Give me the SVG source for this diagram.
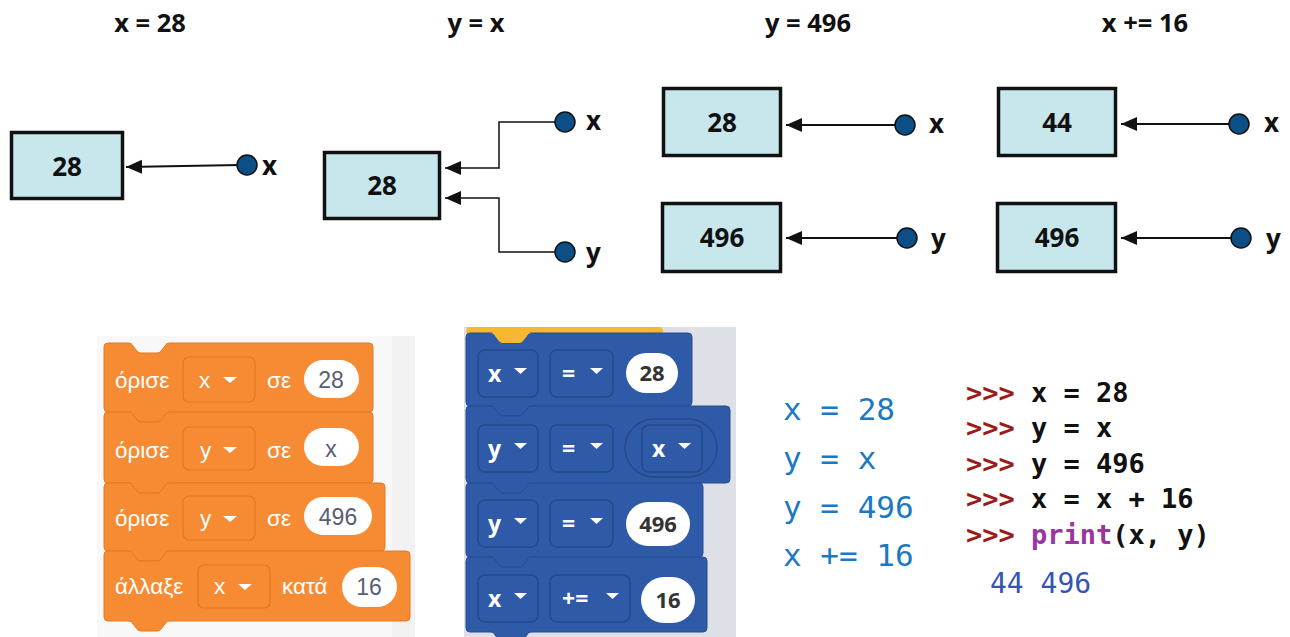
<svg xmlns="http://www.w3.org/2000/svg" width="1290" height="637" viewBox="0 0 1290 637">
  <style>
    .title { font-family: "Open Sans", "Liberation Sans", sans-serif; font-weight: bold; font-size: 25.5px; fill: #111; text-anchor: middle; }
    .box { fill: #c7e7ed; stroke: #111; stroke-width: 3.5; }
    .val { font-family: "Open Sans", "Liberation Sans", sans-serif; font-weight: bold; font-size: 26px; fill: #111; text-anchor: middle; }
    .dot { fill: #0b4f86; stroke: #111; stroke-width: 1.5; }
    .name { font-family: "Open Sans", "Liberation Sans", sans-serif; font-weight: bold; font-size: 26px; fill: #111; }
    .ref { fill: none; stroke: #111; stroke-width: 2; marker-end: url(#head); }
    .ref-thin { fill: none; stroke: #111; stroke-width: 1.5; marker-end: url(#head); }

    .orange { fill: #f68b33; stroke: #e27a22; stroke-width: 1; }
    .o-dd { fill: #f68b33; stroke: #e3791f; stroke-width: 1.2; }
    .o-txt { font-family: "Liberation Sans", Arial, sans-serif; font-size: 22.5px; fill: #fff; }
    .oval { fill: #fff; }
    .o-num { font-family: "Liberation Sans", Arial, sans-serif; font-size: 23px; fill: #575e75; text-anchor: middle; }
    .tri { fill: #fff; }

    .blue { fill: #2f5aa8; stroke: #264c92; stroke-width: 1; }
    .b-dd { fill: #2f5aa8; stroke: #264989; stroke-width: 1.5; }
    .b-txt { font-family: "Open Sans", "Liberation Sans", sans-serif; font-weight: bold; font-size: 23px; fill: #fff; }
    .b-num { font-family: "Open Sans", "Liberation Sans", sans-serif; font-weight: bold; font-size: 22px; fill: #333; text-anchor: middle; }

    .py { font-family: "DejaVu Sans Mono", "Liberation Mono", monospace; font-size: 31px; fill: #1b79c3; }
    .repl { font-family: "DejaVu Sans Mono", "Liberation Mono", monospace; font-size: 27px; font-weight: bold; fill: #111; }
    .prompt { fill: #9c1b1b; }
    .kw { fill: #9b35a0; }
    .out { font-family: "DejaVu Sans Mono", "Liberation Mono", monospace; font-size: 28px; fill: #3555b3; }
  </style>
  <defs>
    <marker id="head" markerUnits="userSpaceOnUse" markerWidth="17" markerHeight="15" refX="16" refY="7" orient="auto">
      <path d="M0,0 L16,7 L0,14 Z" fill="#111"/>
    </marker>
  </defs>

  <rect width="1290" height="637" fill="#fff"/>

  <!-- step titles -->
  <g id="titles">
    <text class="title" x="150" y="32">x = 28</text>
    <text class="title" x="476" y="32">y = x</text>
    <text class="title" x="808" y="32">y = 496</text>
    <text class="title" x="1145" y="32">x += 16</text>
  </g>

  <!-- memory cells -->
  <g id="cell-1"><rect class="box" x="11.5" y="132.5" width="111" height="66"/><text class="val" x="67" y="176">28</text></g>
  <g id="cell-2"><rect class="box" x="324.5" y="152.5" width="115" height="66"/><text class="val" x="382" y="195">28</text></g>
  <g id="cell-3"><rect class="box" x="663.5" y="88.5" width="117" height="67"/><text class="val" x="722" y="132">28</text></g>
  <g id="cell-4"><rect class="box" x="662.5" y="203.5" width="118" height="68"/><text class="val" x="722" y="247">496</text></g>
  <g id="cell-5"><rect class="box" x="998.5" y="88.5" width="117" height="67"/><text class="val" x="1057" y="132">44</text></g>
  <g id="cell-6"><rect class="box" x="997.5" y="203.5" width="118" height="68"/><text class="val" x="1057" y="247">496</text></g>

  <!-- references from names to cells -->
  <g id="connectors">
    <path class="ref" d="M240,165 L126,167"/>
    <path class="ref-thin" d="M558,122 H499 V168 H445"/>
    <path class="ref-thin" d="M558,252 H499 V198 H445"/>
    <path class="ref" d="M898,125 H786"/>
    <path class="ref" d="M900,238 H786"/>
    <path class="ref" d="M1232,124 H1121"/>
    <path class="ref" d="M1234,238 H1121"/>
  </g>

  <!-- variable names -->
  <g id="name-x1"><circle class="dot" cx="247" cy="165" r="10"/><text class="name" x="262" y="175">x</text></g>
  <g id="name-x2"><circle class="dot" cx="565" cy="122" r="10"/><text class="name" x="586" y="130">x</text></g>
  <g id="name-y2"><circle class="dot" cx="565" cy="252" r="10"/><text class="name" x="586" y="262">y</text></g>
  <g id="name-x3"><circle class="dot" cx="905" cy="125" r="10"/><text class="name" x="929" y="133">x</text></g>
  <g id="name-y3"><circle class="dot" cx="907" cy="238" r="10"/><text class="name" x="931" y="248">y</text></g>
  <g id="name-x4"><circle class="dot" cx="1239" cy="124" r="10"/><text class="name" x="1264" y="132">x</text></g>
  <g id="name-y4"><circle class="dot" cx="1241" cy="238" r="10"/><text class="name" x="1266" y="248">y</text></g>

  <!-- Scratch script -->
  <g id="scratch">
    <rect x="97" y="336" width="318" height="301" fill="#f8f8f8"/>
    <rect x="392" y="336" width="23" height="301" fill="#f2f2f2"/>
    <g transform="translate(104,343)">
      <path class="orange" d="M0,4 A4,4 0 0 1 4,0 H24 c3,0 4,1 5,3 l4,5 c1,1.5 2.5,2 5,2 h14 c2.5,0 4,-0.5 5,-2 l4,-5 c1,-2 2,-3 5,-3 H265 a4,4 0 0 1 4,4 V65 a4,4 0 0 1 -4,4 H66 c-3,0 -4,1 -5,3 l-4,5 c-1,1.5 -2.5,2 -5,2 h-14 c-2.5,0 -4,-0.5 -5,-2 l-4,-5 c-1,-2 -2,-3 -5,-3 H4 a4,4 0 0 1 -4,-4 Z"/>
      <text class="o-txt" x="11" y="45">όρισε</text>
      <rect class="o-dd" x="79" y="14" width="72" height="45" rx="6"/>
      <text class="o-txt" x="95" y="45">x</text>
      <path class="tri" d="M119,34 h14 l-7,6 Z"/>
      <text class="o-txt" x="163" y="45">σε</text>
      <rect class="oval" x="200" y="17" width="55" height="38" rx="19"/>
      <text class="o-num" x="227" y="45">28</text>
    </g>
    <g transform="translate(104,412)">
      <path class="orange" d="M0,4 A4,4 0 0 1 4,0 H24 c3,0 4,1 5,3 l4,5 c1,1.5 2.5,2 5,2 h14 c2.5,0 4,-0.5 5,-2 l4,-5 c1,-2 2,-3 5,-3 H265 a4,4 0 0 1 4,4 V67 a4,4 0 0 1 -4,4 H66 c-3,0 -4,1 -5,3 l-4,5 c-1,1.5 -2.5,2 -5,2 h-14 c-2.5,0 -4,-0.5 -5,-2 l-4,-5 c-1,-2 -2,-3 -5,-3 H4 a4,4 0 0 1 -4,-4 Z"/>
      <text class="o-txt" x="11" y="46">όρισε</text>
      <rect class="o-dd" x="79" y="15" width="72" height="43" rx="6"/>
      <text class="o-txt" x="96" y="46">y</text>
      <path class="tri" d="M119,35 h14 l-7,6 Z"/>
      <text class="o-txt" x="163" y="46">σε</text>
      <rect class="oval" x="200" y="16" width="55" height="38" rx="19"/>
      <text class="o-num" x="227" y="45">x</text>
    </g>
    <g transform="translate(104,483)">
      <path class="orange" d="M0,4 A4,4 0 0 1 4,0 H24 c3,0 4,1 5,3 l4,5 c1,1.5 2.5,2 5,2 h14 c2.5,0 4,-0.5 5,-2 l4,-5 c1,-2 2,-3 5,-3 H277 a4,4 0 0 1 4,4 V64 a4,4 0 0 1 -4,4 H66 c-3,0 -4,1 -5,3 l-4,5 c-1,1.5 -2.5,2 -5,2 h-14 c-2.5,0 -4,-0.5 -5,-2 l-4,-5 c-1,-2 -2,-3 -5,-3 H4 a4,4 0 0 1 -4,-4 Z"/>
      <text class="o-txt" x="11" y="43">όρισε</text>
      <rect class="o-dd" x="79" y="13" width="72" height="44" rx="6"/>
      <text class="o-txt" x="96" y="43">y</text>
      <path class="tri" d="M119,33 h14 l-7,6 Z"/>
      <text class="o-txt" x="163" y="43">σε</text>
      <rect class="oval" x="200" y="14" width="68" height="38" rx="19"/>
      <text class="o-num" x="234" y="42">496</text>
    </g>
    <g transform="translate(104,551)">
      <path class="orange" d="M0,4 A4,4 0 0 1 4,0 H24 c3,0 4,1 5,3 l4,5 c1,1.5 2.5,2 5,2 h14 c2.5,0 4,-0.5 5,-2 l4,-5 c1,-2 2,-3 5,-3 H302 a4,4 0 0 1 4,4 V66 a4,4 0 0 1 -4,4 H66 c-3,0 -4,1 -5,3 l-4,5 c-1,1.5 -2.5,2 -5,2 h-14 c-2.5,0 -4,-0.5 -5,-2 l-4,-5 c-1,-2 -2,-3 -5,-3 H4 a4,4 0 0 1 -4,-4 Z"/>
      <text class="o-txt" x="11" y="43">άλλαξε</text>
      <rect class="o-dd" x="94" y="14" width="72" height="43" rx="6"/>
      <text class="o-txt" x="110" y="43">x</text>
      <path class="tri" d="M134,33 h14 l-7,6 Z"/>
      <text class="o-txt" x="178" y="43">κατά</text>
      <rect class="oval" x="238" y="16" width="55" height="40" rx="20"/>
      <text class="o-num" x="265" y="44">16</text>
    </g>
  </g>

  <!-- block-based Python script -->
  <g id="blocks-py">
    <rect x="464" y="327" width="272" height="310" fill="#dde1e7"/>
    <path d="M467,327 H659 a4,4 0 0 1 4,4 V333 H466 Z" fill="#f5b82e"/>
    <g transform="translate(466,333)">
      <path class="blue" d="M0,4 A4,4 0 0 1 4,0 H24 c3,0 4,1 5,3 l4,5 c1,1.5 2.5,2 5,2 h14 c2.5,0 4,-0.5 5,-2 l4,-5 c1,-2 2,-3 5,-3 H222 a4,4 0 0 1 4,4 V69 a4,4 0 0 1 -4,4 H66 c-3,0 -4,1 -5,3 l-4,5 c-1,1.5 -2.5,2 -5,2 h-14 c-2.5,0 -4,-0.5 -5,-2 l-4,-5 c-1,-2 -2,-3 -5,-3 H4 a4,4 0 0 1 -4,-4 Z"/>
      <path d="M24,0 c3,0 4,1 5,3 l4,5 c1,1.5 2.5,2 5,2 h14 c2.5,0 4,-0.5 5,-2 l4,-5 c1,-2 2,-3 5,-3 Z" fill="#f5b82e"/>
      <rect class="b-dd" x="12" y="17" width="60" height="47" rx="7"/>
      <text class="b-txt" x="22" y="49">x</text>
      <path class="tri" d="M48,35 h13 l-6.5,6 Z"/>
      <rect class="b-dd" x="84" y="17" width="63" height="47" rx="7"/>
      <text class="b-txt" x="96" y="49">=</text>
      <path class="tri" d="M124,35 h13 l-6.5,6 Z"/>
      <rect class="oval" x="160" y="20" width="52" height="40" rx="20"/>
      <text class="b-num" x="186" y="48">28</text>
    </g>
    <g transform="translate(466,406)">
      <path class="blue" d="M0,4 A4,4 0 0 1 4,0 H24 c3,0 4,1 5,3 l4,5 c1,1.5 2.5,2 5,2 h14 c2.5,0 4,-0.5 5,-2 l4,-5 c1,-2 2,-3 5,-3 H260 a4,4 0 0 1 4,4 V73 a4,4 0 0 1 -4,4 H66 c-3,0 -4,1 -5,3 l-4,5 c-1,1.5 -2.5,2 -5,2 h-14 c-2.5,0 -4,-0.5 -5,-2 l-4,-5 c-1,-2 -2,-3 -5,-3 H4 a4,4 0 0 1 -4,-4 Z"/>
      <rect class="b-dd" x="12" y="19" width="60" height="47" rx="7"/>
      <text class="b-txt" x="22" y="51">y</text>
      <path class="tri" d="M48,37 h13 l-6.5,6 Z"/>
      <rect class="b-dd" x="84" y="19" width="63" height="47" rx="7"/>
      <text class="b-txt" x="96" y="51">=</text>
      <path class="tri" d="M124,37 h13 l-6.5,6 Z"/>
      <rect class="b-dd" x="159" y="13" width="92" height="58" rx="29"/>
      <rect class="b-dd" x="176" y="19" width="60" height="47" rx="7"/>
      <text class="b-txt" x="186" y="51">x</text>
      <path class="tri" d="M212,37 h13 l-6.5,6 Z"/>
    </g>
    <g transform="translate(466,483)">
      <path class="blue" d="M0,4 A4,4 0 0 1 4,0 H24 c3,0 4,1 5,3 l4,5 c1,1.5 2.5,2 5,2 h14 c2.5,0 4,-0.5 5,-2 l4,-5 c1,-2 2,-3 5,-3 H233 a4,4 0 0 1 4,4 V70 a4,4 0 0 1 -4,4 H66 c-3,0 -4,1 -5,3 l-4,5 c-1,1.5 -2.5,2 -5,2 h-14 c-2.5,0 -4,-0.5 -5,-2 l-4,-5 c-1,-2 -2,-3 -5,-3 H4 a4,4 0 0 1 -4,-4 Z"/>
      <rect class="b-dd" x="12" y="17" width="60" height="47" rx="7"/>
      <text class="b-txt" x="22" y="49">y</text>
      <path class="tri" d="M48,35 h13 l-6.5,6 Z"/>
      <rect class="b-dd" x="84" y="17" width="63" height="47" rx="7"/>
      <text class="b-txt" x="96" y="49">=</text>
      <path class="tri" d="M124,35 h13 l-6.5,6 Z"/>
      <rect class="oval" x="160" y="19" width="64" height="44" rx="22"/>
      <text class="b-num" x="192" y="49">496</text>
    </g>
    <g transform="translate(466,557)">
      <path class="blue" d="M0,4 A4,4 0 0 1 4,0 H24 c3,0 4,1 5,3 l4,5 c1,1.5 2.5,2 5,2 h14 c2.5,0 4,-0.5 5,-2 l4,-5 c1,-2 2,-3 5,-3 H237 a4,4 0 0 1 4,4 V71 a4,4 0 0 1 -4,4 H66 c-3,0 -4,1 -5,3 l-4,5 c-1,1.5 -2.5,2 -5,2 h-14 c-2.5,0 -4,-0.5 -5,-2 l-4,-5 c-1,-2 -2,-3 -5,-3 H4 a4,4 0 0 1 -4,-4 Z"/>
      <rect class="b-dd" x="12" y="18" width="60" height="47" rx="7"/>
      <text class="b-txt" x="22" y="50">x</text>
      <path class="tri" d="M48,36 h13 l-6.5,6 Z"/>
      <rect class="b-dd" x="84" y="18" width="80" height="47" rx="7"/>
      <text class="b-txt" x="96" y="50">+=</text>
      <path class="tri" d="M140,36 h13 l-6.5,6 Z"/>
      <rect class="oval" x="175" y="20" width="54" height="46" rx="23"/>
      <text class="b-num" x="202" y="51">16</text>
    </g>
  </g>

  <!-- Python source -->
  <g id="python-source">
    <text class="py" x="783" y="420">x = 28</text>
    <text class="py" x="783" y="469">y = x</text>
    <text class="py" x="783" y="518">y = 496</text>
    <text class="py" x="783" y="566">x += 16</text>
  </g>

  <!-- interactive session -->
  <g id="python-shell">
    <text class="repl" x="966" y="402"><tspan class="prompt">&gt;&gt;&gt;</tspan> x = 28</text>
    <text class="repl" x="966" y="437"><tspan class="prompt">&gt;&gt;&gt;</tspan> y = x</text>
    <text class="repl" x="966" y="473"><tspan class="prompt">&gt;&gt;&gt;</tspan> y = 496</text>
    <text class="repl" x="966" y="508"><tspan class="prompt">&gt;&gt;&gt;</tspan> x = x + 16</text>
    <text class="repl" x="966" y="544"><tspan class="prompt">&gt;&gt;&gt;</tspan> <tspan class="kw">print</tspan>(x, y)</text>
    <text class="out" x="990" y="593">44 496</text>
  </g>
</svg>
